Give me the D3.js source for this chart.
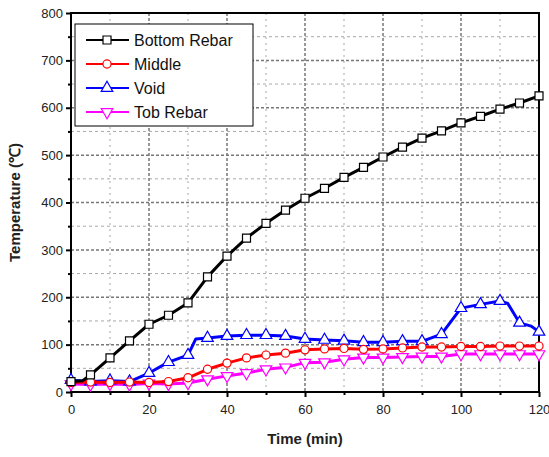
<!DOCTYPE html>
<html>
<head>
<meta charset="utf-8">
<script src="https://cdn.jsdelivr.net/npm/d3@7"></script>
<style>
  body { margin: 0; background: #fff; }
  text { font-family: Arial, "Liberation Sans", sans-serif; }
</style>
</head>
<body>
<script>
// data
const bottomTime = [0, 3, 5, 10, 15, 20, 25, 30, 35, 40, 45, 50, 55, 60, 65, 70, 75, 80, 85, 90, 95, 100, 105, 110, 115, 120];
const bottomVals = [22, 24, 36, 72, 108, 143, 162, 188, 243, 287, 325, 356, 384, 409, 430, 453, 474, 496, 517, 536, 551, 568, 582, 597, 610, 625];

const middleTime = [0, 5, 10, 15, 20, 25, 30, 35, 40, 45, 50, 55, 60, 65, 70, 75, 80, 85, 90, 95, 100, 105, 110, 115, 120];
const middleVals = [20, 21, 20, 21, 20, 22, 30, 48, 61, 72, 78, 82, 89, 91, 92, 90, 91, 93, 95, 95, 96, 96, 97, 97, 97];

const voidTime = [0, 5, 10, 15, 20, 25, 30, 32, 35, 40, 45, 50, 55, 60, 65, 70, 75, 80, 85, 90, 95, 100, 105, 110, 112, 115, 118, 120];
const voidVals = [25, 22, 24, 22, 40, 63, 78, 112, 114, 118, 120, 120, 118, 112, 110, 108, 105, 105, 107, 107, 122, 177, 185, 192, 187, 146, 139, 127];

const tobTime = [0, 5, 10, 15, 20, 25, 30, 35, 40, 45, 50, 55, 60, 65, 70, 75, 80, 85, 90, 95, 100, 105, 110, 115, 120];
const tobVals = [17, 16, 17, 16, 18, 17, 19, 27, 34, 40, 48, 52, 62, 63, 69, 73, 73, 74, 75, 75, 80, 80, 80, 80, 80];

const seriesNames = ["Bottom Rebar", "Middle", "Void", "Tob Rebar"];
const seriesColors = ["#000000", "#ff0000", "#0000ff", "#ff00ff"];
const seriesShapes = ["square", "circle", "triangle", "triangleDown"];

const xTicks = [0, 20, 40, 60, 80, 100, 120];
const yTicks = [0, 100, 200, 300, 400, 500, 600, 700, 800];

const series = [
  {time: bottomTime, vals: bottomVals},
  {time: middleTime, vals: middleVals},
  {time: voidTime, vals: voidVals},
  {time: tobTime, vals: tobVals}
].map((s, i) => ({
  name: seriesNames[i], color: seriesColors[i], shape: seriesShapes[i],
  pts: s.time.map((t, j) => [t, s.vals[j]])
}));

// svg canvas
const width = 549, height = 457,
      pLeft = 71, pRight = 539, pTop = 13, pBottom = 392,
      svg = d3.select("body").append("svg").attr("width", width).attr("height", height),
      xScale = d3.scaleLinear().domain([0, 120]).range([pLeft, pRight]),
      yScale = d3.scaleLinear().domain([0, 800]).range([pBottom, pTop]);

// grid: minor then major
const grid = svg.append("g");
d3.range(10, 120, 20).forEach(v => {
  grid.append("line").attr("x1", xScale(v)).attr("x2", xScale(v)).attr("y1", pTop).attr("y2", pBottom)
      .attr("stroke", "#a8a8a8").attr("stroke-width", 1).attr("stroke-dasharray", "2,4");
});
d3.range(50, 800, 100).forEach(v => {
  grid.append("line").attr("x1", pLeft).attr("x2", pRight).attr("y1", yScale(v)).attr("y2", yScale(v))
      .attr("stroke", "#a8a8a8").attr("stroke-width", 1).attr("stroke-dasharray", "3,3");
});
xTicks.slice(1, -1).forEach(v => {
  grid.append("line").attr("x1", xScale(v)).attr("x2", xScale(v)).attr("y1", pTop).attr("y2", pBottom)
      .attr("stroke", "#777").attr("stroke-width", 1.5).attr("stroke-dasharray", "3,2");
});
yTicks.slice(1, -1).forEach(v => {
  grid.append("line").attr("x1", pLeft).attr("x2", pRight).attr("y1", yScale(v)).attr("y2", yScale(v))
      .attr("stroke", "#777").attr("stroke-width", 1.5).attr("stroke-dasharray", "3,2");
});

// axes
const xAxis = svg.append("g").attr("transform", `translate(0,${pBottom})`)
  .call(d3.axisBottom(xScale).tickValues(d3.range(0, 121, 10)).tickSize(5).tickFormat(d => d % 20 === 0 ? d : ""));
const yAxis = svg.append("g").attr("transform", `translate(${pLeft},0)`)
  .call(d3.axisLeft(yScale).tickValues(d3.range(0, 801, 50)).tickSize(5).tickFormat(d => d % 100 === 0 ? d : ""));
[xAxis, yAxis].forEach(a => {
  a.select(".domain").remove();
  a.selectAll(".tick line").attr("stroke", "#000").attr("stroke-width", 2);
  a.selectAll(".tick text").attr("font-size", 13).attr("fill", "#222");
});
xAxis.selectAll(".tick").filter(d => d % 20 !== 0).select("line").attr("y2", 3);
yAxis.selectAll(".tick").filter(d => d % 100 !== 0).select("line").attr("x2", -3);
xAxis.selectAll(".tick text").attr("dy", "1.1em");

// frame
svg.append("rect").attr("x", pLeft).attr("y", pTop).attr("width", pRight - pLeft).attr("height", pBottom - pTop)
   .attr("fill", "none").attr("stroke", "#000").attr("stroke-width", 2);

// axis titles
svg.append("text").attr("x", (pLeft + pRight) / 2).attr("y", 444).attr("text-anchor", "middle")
   .attr("font-size", 15).attr("font-weight", "bold").attr("fill", "#222").text("Time (min)");
svg.append("text").attr("transform", `translate(20,${(pTop + pBottom) / 2}) rotate(-90)`).attr("text-anchor", "middle")
   .attr("font-size", 15).attr("font-weight", "bold").attr("fill", "#222").text("Temperature (℃)");

// markers
const symbolFor = shape => {
  if (shape === "square") return d3.symbol().type(d3.symbolSquare).size(64)();
  if (shape === "circle") return d3.symbol().type(d3.symbolCircle).size(52)();
  return d3.symbol().type(d3.symbolTriangle).size(58)();
};
const rotFor = shape => shape === "triangleDown" ? " rotate(180)" : "";

const line = d3.line().x(d => xScale(d[0])).y(d => yScale(d[1]));

series.slice().reverse().forEach(s => {
  const g = svg.append("g");
  g.append("path").attr("d", line(s.pts)).attr("fill", "none")
   .attr("stroke", s.color).attr("stroke-width", 3).attr("stroke-linejoin", "round");
  g.selectAll("path.m")
   .data(s.pts.filter(d => d[0] % 5 === 0))
   .enter()
   .append("path")
   .attr("class", "m")
   .attr("d", symbolFor(s.shape))
   .attr("transform", d => `translate(${xScale(d[0])},${yScale(d[1])})${rotFor(s.shape)}`)
   .attr("fill", "#fff").attr("stroke", s.color).attr("stroke-width", 1.2);
});

// legend
const legend = svg.append("g");
legend.append("rect").attr("x", 75).attr("y", 24).attr("width", 178).attr("height", 102)
      .attr("fill", "#fff").attr("stroke", "#000").attr("stroke-width", 1);
series.forEach((s, i) => {
  const y = 40 + i * 24;
  legend.append("line").attr("x1", 86).attr("x2", 129).attr("y1", y).attr("y2", y)
        .attr("stroke", s.color).attr("stroke-width", 2);
  legend.append("path").attr("d", symbolFor(s.shape))
        .attr("transform", `translate(107,${y})${rotFor(s.shape)}`)
        .attr("fill", "#fff").attr("stroke", s.color).attr("stroke-width", 1.2);
  legend.append("text").attr("x", 134).attr("y", y + 5.5).attr("font-size", 16).attr("fill", "#111").text(s.name);
});
</script>
</body>
</html>
